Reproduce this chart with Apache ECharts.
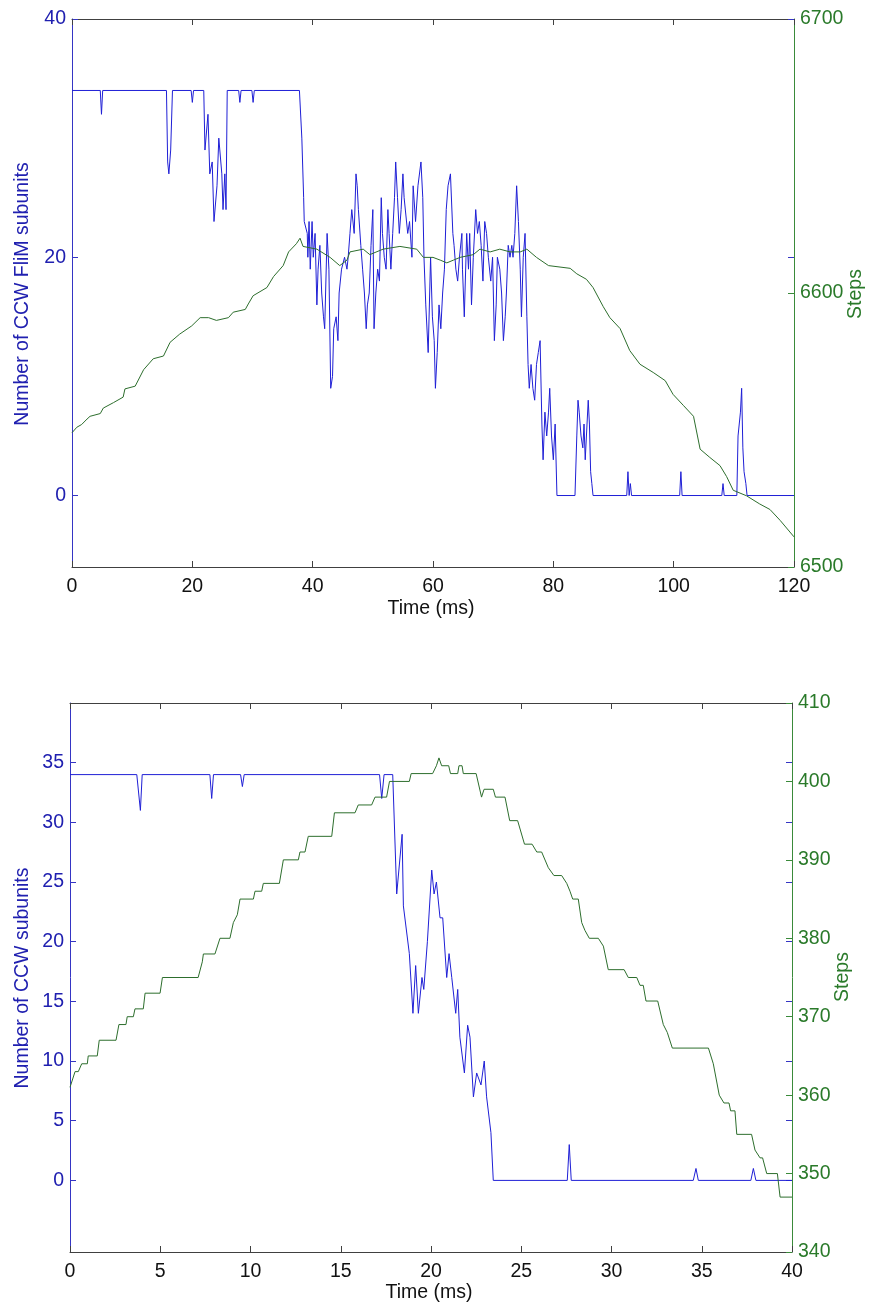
<!DOCTYPE html>
<html>
<head>
<meta charset="utf-8">
<title>CCW subunits and motor steps over time</title>
<script src="https://cdn.jsdelivr.net/npm/echarts@6/dist/echarts.min.js"></script>
<style>
  html, body { margin: 0; padding: 0; background: #fff; }
  #chart { width: 872px; height: 1309px; }
</style>
</head>
<body>
<div id="chart"></div>
<script>
// ---- Upper panel: number of CCW FliM subunits and step count, 0-120 ms ----
const topCount = [
  [0,34],[4.7,34],[4.9,32],[5.1,34],
  [15.7,34],[15.9,28],[16.1,27],[16.4,29],[16.7,34],
  [19.8,34],[20.0,33],[20.2,34],
  [21.9,34],[22.1,29],[22.6,32],[22.9,27],[23.3,28],[23.6,23],[24.1,26],[24.4,30],[24.9,27],[25.1,24],[25.4,27],[25.6,24],[25.8,34],
  [27.7,34],[27.9,33],[28.1,34],
  [29.9,34],[30.1,33],[30.3,34],
  [37.8,34],[38.2,30],[38.5,25],[38.6,23],[38.8,23],[39.1,22],[39.2,20],[39.4,23],[39.6,19],[39.9,23],[40.1,20],[40.4,22],
  [40.7,16],[40.9,19],[41.2,21],[41.5,17],[41.8,15],[42.0,14],[42.4,22],[42.7,19],[43.0,9],[43.3,10],[43.5,14],[43.9,15],
  [44.2,13],[44.4,17],[44.8,19],[45.3,20],[45.7,19],[45.9,20],[46.2,22],[46.5,24],[46.9,22],[47.2,27],[47.4,26],[47.6,24],
  [48.0,21],[48.3,19],[48.6,17],[48.9,14],[49.1,16],[49.4,17],[49.7,21],[50.0,24],[50.2,14],[50.5,17],[50.8,19],[51.1,18],
  [51.4,25],[51.6,22],[51.9,20],[52.2,19],[52.5,24],[52.7,22],[53.0,19],[53.3,22],[53.6,25],[53.8,28],[54.1,25],[54.4,22],
  [54.7,24],[55.0,27],[55.2,25],[55.5,25],[55.8,22],[56.1,23],[56.5,20],[56.7,26],[57.1,23],[57.5,26],[57.7,26],[58.0,28],
  [58.3,25],[58.5,20],[58.8,16],[59.2,12],[59.6,20],[59.9,15],[60.2,13],[60.4,9],[60.7,12],[61.0,16],[61.3,14],[61.6,17],
  [61.9,19],[62.2,24],[62.5,26],[62.9,27],[63.3,22],[63.5,21],[63.8,19],[64.1,18],[64.4,20],[64.8,22],[64.9,19],[65.2,15],
  [65.6,22],[65.9,19],[66.1,22],[66.4,16],[66.7,20],[67.1,24],[67.4,22],[67.7,23],[68.0,21],[68.3,18],[68.6,23],[68.9,22],
  [69.2,20],[69.6,18],[69.9,20],[70.2,13],[70.5,16],[70.7,20],[71.1,19],[71.4,17],[71.7,13],[72.0,15],[72.2,17],[72.5,21],
  [72.8,20],[73.1,21],[73.3,20],[73.6,22],[73.9,26],[74.2,23],[74.5,19],[74.7,15],[75.0,20],[75.3,22],[75.6,15],[75.8,11],
  [76.0,9],[76.3,11],[76.6,9],[76.9,8],[77.2,11],[77.5,12],[77.8,13],[78.1,6],[78.3,3],[78.6,7],[78.9,5],[79.2,7],
  [79.4,9],[79.7,5],[80.0,3],[80.3,6],[80.6,0],
  [83.6,0],[83.9,5],[84.1,8],[84.3,7],[84.6,5],[84.9,4],[85.1,6],[85.3,3],[85.5,3],[85.8,8],[86.0,6],[86.2,2],[86.4,1],[86.6,0],
  [92.2,0],[92.4,2],[92.6,0],[92.8,1],[93.0,0],
  [101.0,0],[101.2,2],[101.4,0],
  [108.0,0],[108.2,1],[108.4,0],
  [110.5,0],[110.7,5],[111.1,7],[111.3,9],[111.5,4],[111.7,2],[112.0,1],[112.2,0],
  [120,0]
];

const topSteps = [
  [0,6549],[0.8,6551],[1.6,6552],[2.5,6554],[3.0,6555],[4.7,6556],[5.2,6558],[6.9,6560],[8.5,6562],[8.8,6565],
  [10.5,6566],[11.9,6572],[13.5,6576],[15.2,6577],[16.3,6582],[17.9,6585],[19.9,6588],[21.3,6591],[22.7,6591],
  [24.0,6590],[26.0,6591],[26.8,6593],[28.8,6594],[29.3,6596],[30.1,6599],[32.4,6602],[33.5,6606],[35.1,6610],
  [36.0,6615],[37.3,6618],[37.9,6620],[38.4,6617],[40.7,6616],[42.9,6613],[44.5,6610],[45.7,6612],[46.2,6615],
  [48.4,6616],[49.5,6614],[51.7,6616],[54.5,6617],[57.3,6616],[58.4,6613],[60.0,6613],[61.2,6612],[62.3,6611],
  [63.4,6612],[64.5,6613],[66.7,6614],[67.8,6616],[69.5,6615],[71.1,6616],[72.8,6615],[74.5,6615],[75.6,6616],
  [77.2,6613],[79.2,6610],[82.8,6609],[83.9,6607],[85.5,6605],[86.6,6602],[88.3,6595],[89.4,6591],[91.1,6587],
  [92.7,6579],[94.4,6574],[96.6,6571],[98.6,6568],[99.9,6563],[101.6,6559],[103.3,6555],[104.4,6543],[106.0,6540],
  [107.7,6537],[108.8,6533],[109.9,6528],[112.1,6526],[114.3,6523],[116.0,6521],[117.7,6517],[120,6511]
];

// ---- Lower panel: number of CCW subunits and step count, 0-40 ms ----
const bottomCount = [
  [0,34],[3.7,34],[3.9,31],[4.0,34],[7.75,34],[7.85,32],[7.95,34],[9.45,34],[9.55,33],[9.65,34],
  [17.15,34],[17.27,32],[17.4,34],[17.88,34],[18.1,24],[18.4,29],[18.47,23],[18.8,19],[19.0,14],[19.15,18],
  [19.3,14],[19.5,17],[19.6,16],[19.8,20],[20.04,26],[20.17,24],[20.3,25],[20.5,22],[20.65,22],[20.87,17],
  [21.0,19],[21.15,17],[21.37,14],[21.48,16],[21.6,12],[21.85,9],[22.03,13],[22.16,12],[22.35,7],[22.53,9],
  [22.77,8],[22.95,10],[23.08,7],[23.32,4],[23.45,0],
  [27.55,0],[27.66,3],[27.77,0],
  [34.53,0],[34.68,1],[34.81,0],
  [37.72,0],[37.86,1],[38.0,0],
  [40,0]
];

const bottomSteps = [
  [0,361],[0.28,363],[0.46,363],[0.65,364],[0.96,364],[1.01,365],[1.51,365],[1.62,367],[2.55,367],[2.71,369],
  [3.1,369],[3.17,370],[3.51,370],[3.6,371],[4.06,371],[4.16,373],[4.99,373],[5.12,375],[7.1,375],[7.33,377],
  [7.39,378],[8.03,378],[8.31,380],[8.86,380],[9.05,382],[9.27,383],[9.42,385],[10.16,385],[10.25,386],[10.62,386],
  [10.71,387],[11.6,387],[11.82,390],[12.65,390],[12.74,391],[13.02,391],[13.2,393],[14.5,393],[14.65,396],[15.79,396],
  [15.97,397],[16.71,397],[16.9,398],[17.54,398],[17.7,400],[18.8,400],[18.9,401],[20.09,401],[20.3,402],[20.44,403],
  [20.59,402],[20.98,402],[21.08,401],[21.48,401],[21.55,402],[21.72,402],[21.79,401],[22.5,401],[22.8,398],[22.94,399],
  [23.45,399],[23.57,398],[24.1,398],[24.36,395],[24.8,395],[25.18,392],[25.6,392],[25.86,391],[26.13,391],[26.5,389],
  [26.81,388],[27.24,388],[27.52,387],[27.7,386],[27.85,385],[28.16,385],[28.35,382],[28.53,381],[28.77,380],[29.27,380],
  [29.55,379],[29.82,376],[30.7,376],[30.93,375],[31.4,375],[31.58,374],[31.76,374],[31.91,372],[32.56,372],[32.87,369],
  [33.09,368],[33.37,366],[35.37,366],[35.64,364],[35.97,360],[36.23,359],[36.51,359],[36.6,358],[36.84,358],[36.94,355],
  [37.76,355],[37.95,353],[38.23,352],[38.37,352],[38.6,350],[39.19,350],[39.34,347],[40,347]
];

// Tick values
const topTimeTicks = { min: 0, max: 120, interval: 20 };
const topCountTicks = [0, 20, 40];
const topStepTicks = { min: 6500, max: 6700, interval: 100 };
const bottomTimeTicks = { min: 0, max: 40, interval: 5 };
const bottomCountTicks = [0, 5, 10, 15, 20, 25, 30, 35];
const bottomStepTicks = { min: 340, max: 410, interval: 10 };
const countRange = { min: -6, max: 40 };

// Styling
const FONT = '"Liberation Sans", Arial, Helvetica, sans-serif';
const FS = 19.5;
const BLUE_LINE = '#1f1fd6';
const BLUE_AXIS = '#3535c4';
const BLUE_TEXT = '#2020b0';
const GREEN_LINE = '#2d6e2d';
const GREEN_AXIS = '#3a8a3a';
const GREEN_TEXT = '#2a7a2a';
const FRAME = '#404040';
const plain = (v) => String(v);

function timeAxis(grid, range, position) {
  const isBottom = position === 'bottom';
  return {
    type: 'value', gridIndex: grid, position: position,
    min: range.min, max: range.max, interval: range.interval,
    axisLine: { show: true, onZero: false, lineStyle: { color: FRAME, width: 1 } },
    axisTick: { show: true, inside: true, length: 6, lineStyle: { color: FRAME, width: 1 } },
    axisLabel: { show: isBottom, color: '#111', fontSize: FS, fontFamily: FONT, margin: 10, formatter: plain },
    splitLine: { show: false }
  };
}

function countAxis(grid, ticks, position, mirror) {
  return {
    type: 'value', gridIndex: grid, position: position,
    min: countRange.min, max: countRange.max,
    axisLine: { show: !mirror, onZero: false, lineStyle: { color: BLUE_AXIS, width: 1 } },
    axisTick: { show: true, inside: true, length: 6, customValues: ticks, lineStyle: { color: BLUE_AXIS, width: 1 } },
    axisLabel: { show: !mirror, customValues: ticks, color: BLUE_TEXT, fontSize: FS, fontFamily: FONT, margin: 6, formatter: plain },
    splitLine: { show: false }
  };
}

function stepAxis(grid, range) {
  return {
    type: 'value', gridIndex: grid, position: 'right',
    min: range.min, max: range.max, interval: range.interval,
    axisLine: { show: true, onZero: false, lineStyle: { color: GREEN_AXIS, width: 1 } },
    axisTick: { show: true, inside: true, length: 6, lineStyle: { color: GREEN_AXIS, width: 1 } },
    axisLabel: { color: GREEN_TEXT, fontSize: FS, fontFamily: FONT, margin: 6, formatter: plain },
    splitLine: { show: false }
  };
}

function lineSeries(data, xi, yi, color) {
  return {
    type: 'line', xAxisIndex: xi, yAxisIndex: yi, data: data,
    showSymbol: false, symbol: 'none', smooth: false,
    lineStyle: { color: color, width: 1 },
    emphasis: { disabled: true }, silent: true
  };
}

function title(text, x, y, color, rotated) {
  return {
    type: 'text', x: x, y: y, rotation: rotated ? Math.PI / 2 : 0, silent: true,
    style: { text: text, fill: color, fontSize: FS, fontFamily: FONT, align: 'center', verticalAlign: 'middle' }
  };
}

const chart = echarts.init(document.getElementById('chart'), null, { renderer: 'canvas' });
chart.setOption({
  animation: false,
  backgroundColor: '#ffffff',
  textStyle: { fontFamily: FONT },
  grid: [
    { left: 72, top: 19, width: 722, height: 548, containLabel: false },
    { left: 70, top: 703, width: 722, height: 549, containLabel: false }
  ],
  xAxis: [
    timeAxis(0, topTimeTicks, 'bottom'),
    timeAxis(0, topTimeTicks, 'top'),
    timeAxis(1, bottomTimeTicks, 'bottom'),
    timeAxis(1, bottomTimeTicks, 'top')
  ],
  yAxis: [
    countAxis(0, topCountTicks, 'left', false),
    stepAxis(0, topStepTicks),
    countAxis(0, topCountTicks, 'right', true),
    countAxis(1, bottomCountTicks, 'left', false),
    stepAxis(1, bottomStepTicks),
    countAxis(1, bottomCountTicks, 'right', true)
  ],
  series: [
    lineSeries(topCount, 0, 0, BLUE_LINE),
    lineSeries(topSteps, 0, 1, GREEN_LINE),
    lineSeries(bottomCount, 2, 3, BLUE_LINE),
    lineSeries(bottomSteps, 2, 4, GREEN_LINE)
  ],
  graphic: [
    title('Number of CCW FliM subunits', 23, 294, BLUE_TEXT, true),
    title('Steps', 856, 294, GREEN_TEXT, true),
    title('Time (ms)', 431, 608.5, '#111', false),
    title('Number of CCW subunits', 23, 978, BLUE_TEXT, true),
    title('Steps', 843, 977, GREEN_TEXT, true),
    title('Time (ms)', 429, 1293, '#111', false)
  ]
});
</script>
</body>
</html>
